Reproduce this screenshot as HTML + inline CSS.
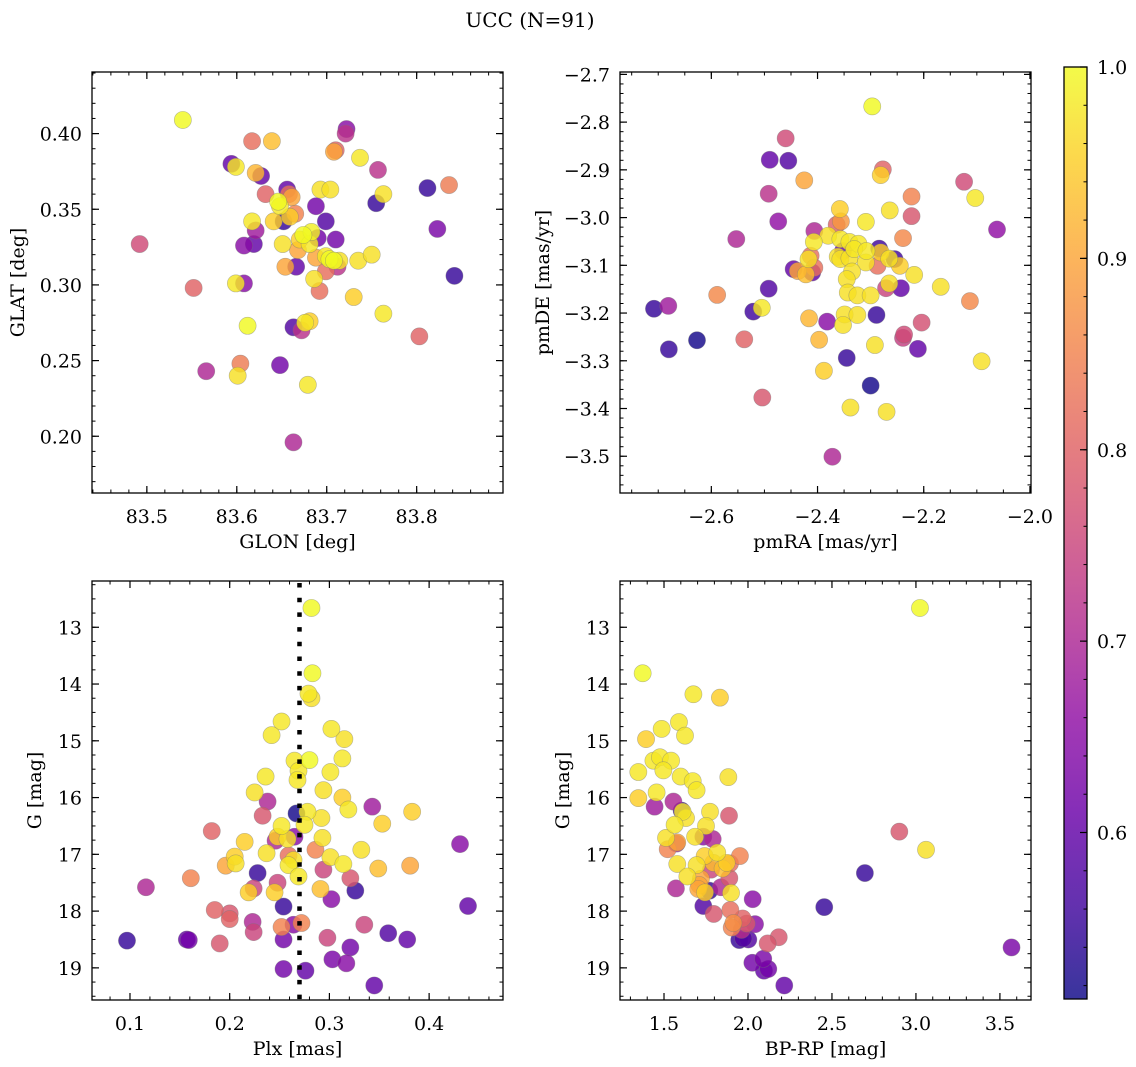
<!DOCTYPE html>
<html><head><meta charset="utf-8">
<style>
html,body{margin:0;padding:0;background:#fff;}
svg{display:block;font-family:"DejaVu Serif","Liberation Serif",serif;}
</style></head>
<body>
<svg id="fig" width="1136" height="1067" viewBox="0 0 1136 1067" xmlns="http://www.w3.org/2000/svg">
<text x="530" y="27" font-size="20" text-anchor="middle">UCC (N=91)</text>
</svg>
<script>
// ---- Panel 1: GLON / GLAT ----
const p1x=[83.540,83.594,83.599,83.617,83.639,83.621,83.627,83.632,83.656,83.658,83.661,83.617,83.621,83.608,83.619,83.646,83.648,83.641,83.652,83.659,83.665,83.651,83.654,83.668,83.674,83.681,83.670,83.683,83.688,83.693,83.704,83.699,83.703,83.699,83.688,83.690,83.708,83.714,83.722,83.721,83.710,83.708,83.737,83.699,83.710,83.712,83.735,83.755,83.763,83.757,83.812,83.836,83.823,83.730,83.763,83.750,83.842,83.803,83.492,83.552,83.599,83.608,83.612,83.663,83.676,83.681,83.672,83.692,83.686,83.666,83.648,83.604,83.601,83.566,83.679,83.663];
const p1y=[0.409,0.380,0.378,0.395,0.395,0.374,0.372,0.360,0.363,0.360,0.358,0.342,0.336,0.326,0.327,0.355,0.352,0.342,0.342,0.345,0.347,0.327,0.312,0.323,0.333,0.327,0.330,0.335,0.352,0.363,0.363,0.319,0.317,0.309,0.318,0.331,0.316,0.316,0.403,0.400,0.389,0.388,0.384,0.342,0.330,0.312,0.316,0.354,0.360,0.376,0.364,0.366,0.337,0.292,0.281,0.320,0.306,0.266,0.327,0.298,0.301,0.301,0.273,0.272,0.275,0.276,0.270,0.296,0.304,0.312,0.247,0.248,0.240,0.243,0.234,0.196];
const p1p=[1.0,0.6,0.98,0.82,0.93,0.92,0.6,0.8,0.6,0.82,0.9,0.98,0.68,0.65,0.6,1.0,0.98,0.95,0.55,0.95,0.85,0.97,0.9,0.9,1.0,0.98,0.95,0.99,0.62,0.97,0.97,0.98,1.0,0.82,0.9,0.62,1.0,0.97,0.65,0.72,0.8,0.9,0.98,0.58,0.62,0.72,0.97,0.55,0.97,0.72,0.55,0.84,0.63,0.95,0.98,0.97,0.55,0.8,0.76,0.8,0.98,0.65,1.0,0.58,0.98,0.95,0.72,0.82,0.97,0.6,0.62,0.84,0.97,0.7,0.98,0.7];
// ---- Panel 2: pmRA / pmDE ----
const p2x=[-2.297,-2.460,-2.490,-2.455,-2.277,-2.281,-2.425,-2.492,-2.124,-2.103,-2.223,-2.264,-2.358,-2.356,-2.309,-2.223,-2.062,-2.474,-2.553,-2.239,-2.406,-2.364,-2.380,-2.407,-2.357,-2.340,-2.323,-2.352,-2.331,-2.308,-2.284,-2.281,-2.255,-2.265,-2.245,-2.287,-2.218,-2.362,-2.357,-2.340,-2.309,-2.335,-2.345,-2.343,-2.325,-2.300,-2.271,-2.265,-2.243,-2.168,-2.445,-2.437,-2.422,-2.417,-2.413,-2.410,-2.406,-2.492,-2.589,-2.708,-2.681,-2.521,-2.505,-2.113,-2.204,-2.416,-2.382,-2.349,-2.325,-2.352,-2.289,-2.237,-2.239,-2.211,-2.292,-2.397,-2.538,-2.627,-2.680,-2.345,-2.091,-2.388,-2.300,-2.504,-2.338,-2.270,-2.372];
const p2y=[-2.767,-2.834,-2.879,-2.881,-2.899,-2.911,-2.922,-2.950,-2.925,-2.959,-2.956,-2.985,-2.982,-3.008,-3.009,-2.997,-3.025,-3.008,-3.045,-3.043,-3.028,-3.015,-3.038,-3.051,-3.045,-3.051,-3.055,-3.070,-3.066,-3.070,-3.065,-3.073,-3.087,-3.086,-3.101,-3.101,-3.120,-3.082,-3.087,-3.085,-3.094,-3.113,-3.129,-3.157,-3.163,-3.163,-3.148,-3.138,-3.148,-3.145,-3.108,-3.112,-3.119,-3.087,-3.080,-3.115,-3.105,-3.149,-3.162,-3.191,-3.185,-3.197,-3.189,-3.175,-3.220,-3.211,-3.218,-3.203,-3.204,-3.225,-3.204,-3.245,-3.252,-3.275,-3.267,-3.256,-3.255,-3.257,-3.276,-3.294,-3.301,-3.321,-3.352,-3.377,-3.398,-3.407,-3.501];
const p2p=[1.0,0.76,0.6,0.58,0.8,0.95,0.9,0.72,0.76,0.98,0.85,0.97,0.95,0.88,0.98,0.78,0.66,0.66,0.7,0.86,0.7,0.8,0.97,0.98,0.98,0.98,0.98,0.6,0.98,0.98,0.56,0.95,0.56,0.97,0.95,0.82,0.97,0.97,0.97,0.97,0.97,0.97,0.97,0.97,0.97,0.97,0.75,0.97,0.6,0.97,0.6,0.9,0.93,0.97,0.82,0.6,0.82,0.58,0.86,0.55,0.68,0.56,0.98,0.86,0.77,0.92,0.65,0.97,0.97,0.97,0.55,0.76,0.74,0.6,0.97,0.92,0.8,0.52,0.55,0.55,0.97,0.95,0.52,0.78,0.97,0.97,0.7];
// ---- Panel 3: Plx / G ----
const p3x=[0.282,0.283,0.279,0.282,0.252,0.242,0.302,0.315,0.265,0.280,0.313,0.301,0.269,0.268,0.236,0.225,0.294,0.313,0.238,0.267,0.278,0.319,0.343,0.383,0.233,0.292,0.275,0.353,0.252,0.182,0.265,0.246,0.248,0.258,0.293,0.215,0.286,0.332,0.431,0.237,0.205,0.206,0.196,0.259,0.264,0.259,0.301,0.314,0.349,0.381,0.161,0.228,0.269,0.294,0.321,0.116,0.224,0.248,0.219,0.245,0.291,0.326,0.302,0.439,0.254,0.185,0.200,0.200,0.223,0.224,0.264,0.272,0.252,0.335,0.097,0.157,0.159,0.190,0.254,0.298,0.359,0.378,0.321,0.254,0.276,0.303,0.317,0.345];
const p3y=[12.66,13.81,14.17,14.25,14.66,14.90,14.79,14.97,15.35,15.34,15.31,15.55,15.53,15.69,15.63,15.91,15.87,16.00,16.07,16.28,16.25,16.21,16.16,16.25,16.32,16.36,16.48,16.46,16.50,16.59,16.69,16.76,16.69,16.73,16.71,16.78,16.92,16.92,16.82,16.98,17.04,17.16,17.20,17.02,17.10,17.19,17.05,17.17,17.25,17.20,17.42,17.33,17.39,17.27,17.42,17.58,17.60,17.50,17.67,17.67,17.61,17.64,17.79,17.91,17.92,17.98,18.04,18.14,18.19,18.37,18.24,18.21,18.28,18.24,18.52,18.50,18.51,18.57,18.50,18.47,18.39,18.50,18.64,19.02,19.05,18.85,18.92,19.31];
const p3p=[1.0,1.0,0.98,0.97,0.98,0.98,0.98,0.97,0.98,1.0,0.98,0.98,0.98,0.98,0.98,0.97,0.97,0.95,0.7,0.52,0.98,0.98,0.68,0.95,0.78,0.97,0.98,0.95,0.98,0.8,0.65,0.7,0.95,0.97,0.97,0.95,0.85,0.97,0.65,0.97,0.95,0.97,0.9,0.82,0.97,0.98,0.97,0.98,0.93,0.9,0.85,0.55,0.98,0.75,0.78,0.7,0.75,0.75,0.95,0.95,0.93,0.55,0.65,0.6,0.55,0.8,0.78,0.8,0.7,0.75,0.65,0.85,0.85,0.75,0.55,0.6,0.62,0.78,0.62,0.75,0.58,0.6,0.62,0.62,0.6,0.63,0.65,0.6];
// ---- Panel 4: BP-RP / G ----
const p4x=[3.024,1.373,1.675,1.833,1.589,1.486,1.625,1.393,1.437,1.476,1.542,1.496,1.347,1.599,1.671,1.694,1.883,1.456,1.347,1.556,1.444,1.605,1.611,1.631,1.774,1.887,1.563,1.750,2.901,1.734,1.790,1.685,1.512,1.575,1.579,1.522,3.060,1.579,1.742,1.817,1.952,1.694,1.794,1.873,1.893,1.849,1.780,2.696,1.639,1.720,1.710,1.704,1.889,1.839,1.571,1.770,1.744,1.899,2.028,1.734,2.454,1.796,1.895,1.968,2.042,1.913,1.903,1.962,1.992,2.183,2.117,1.948,2.002,1.972,3.569,2.026,2.091,2.121,2.095,2.216];
const p4y=[12.66,13.81,14.18,14.24,14.67,14.79,14.91,14.97,15.35,15.29,15.35,15.52,15.55,15.63,15.71,15.87,15.64,15.91,16.01,16.07,16.16,16.23,16.25,16.36,16.25,16.32,16.48,16.50,16.60,16.69,16.73,16.69,16.71,16.81,16.79,16.91,16.92,17.17,17.03,16.97,17.03,17.19,17.15,17.15,17.16,17.25,17.27,17.33,17.39,17.43,17.54,17.61,17.42,17.58,17.60,17.64,17.67,17.68,17.79,17.91,17.93,18.05,17.98,18.13,18.23,18.21,18.29,18.33,18.22,18.46,18.57,18.51,18.50,18.48,18.64,18.91,18.84,19.02,19.05,19.31];
const p4p=[1.0,1.0,0.98,0.95,0.98,0.98,0.98,0.95,0.98,0.98,0.98,0.98,0.98,0.98,0.98,0.98,0.97,0.98,0.95,0.7,0.68,0.55,0.98,0.97,0.97,0.78,0.98,0.97,0.78,0.65,0.7,0.97,0.97,0.7,0.9,0.85,0.97,0.97,0.95,0.97,0.85,0.97,0.93,0.95,0.82,0.93,0.75,0.55,0.97,0.9,0.9,0.9,0.78,0.7,0.7,0.55,0.95,0.97,0.65,0.58,0.55,0.78,0.82,0.8,0.65,0.87,0.85,0.72,0.78,0.78,0.78,0.55,0.58,0.58,0.63,0.62,0.63,0.62,0.6,0.6];
// tick labels
const p1xTicks=[83.5,83.6,83.7,83.8];
const p1yTicks=[0.20,0.25,0.30,0.35,0.40];
const p2xTicks=[-2.6,-2.4,-2.2,-2.0];
const p2yTicks=[-2.7,-2.8,-2.9,-3.0,-3.1,-3.2,-3.3,-3.4,-3.5];
const p3xTicks=[0.1,0.2,0.3,0.4];
const gTicks=[13,14,15,16,17,18,19];
const p4xTicks=[1.5,2.0,2.5,3.0,3.5];
const cbTicks=[0.6,0.7,0.8,0.9,1.0];
const plxRef=0.27;
const pMin=0.513, pMax=1.0;

const NS="http://www.w3.org/2000/svg";
const svg=document.getElementById('fig');
const FS=19;
function mk(tag,attrs,parent){const e=document.createElementNS(NS,tag);for(const k in attrs)e.setAttribute(k,attrs[k]);(parent||svg).appendChild(e);return e;}
const plasma=[[13,8,135],[65,4,157],[106,0,168],[143,13,164],[177,42,144],[204,71,120],[225,100,98],[242,132,75],[252,166,54],[252,206,37],[240,249,33]];
function cmap(p){let t=(p-pMin)/(pMax-pMin);t=Math.max(0,Math.min(1,t));const f=t*10,i=Math.min(9,Math.floor(f)),r=f-i;const a=plasma[i],b=plasma[i+1];return 'rgb('+[0,1,2].map(k=>Math.round(a[k]+(b[k]-a[k])*r)).join(',')+')';}
function fmt(v,d){return (v<0?'\u2212':'')+Math.abs(v).toFixed(d);}

function panel(name,L,R,T,B,xr,yr,xinv,xT,yT,xd,yd,xminor,yminor,xlab,ylab,ylabX,xs,ys,ps){
  const g=mk('g',{});
  
  
  const sx=v=>L+(v-xr[0])/(xr[1]-xr[0])*(R-L);
  const sy=v=>yr[2]? T+(v-yr[0])/(yr[1]-yr[0])*(B-T) : B-(v-yr[0])/(yr[1]-yr[0])*(B-T);
  const clip=mk('clipPath',{id:'c'+name},g);mk('rect',{x:L,y:T,width:R-L,height:B-T},clip);
  const pts=mk('g',{'clip-path':'url(#c'+name+')'},g);
  
  
  const idx=xs.map((_,i)=>i).sort((a,b)=>ps[a]-ps[b]);
  idx.forEach(i=>{const c=mk('circle',{cx:sx(xs[i]),cy:sy(ys[i]),r:8.6,fill:cmap(ps[i]),'fill-opacity':0.82,stroke:'#777','stroke-opacity':0.5,'stroke-width':0.6},pts);
    
    });
  if(name==='plx-g-panel'){const l=mk('line',{x1:sx(plxRef),x2:sx(plxRef),y1:T+2,y2:B,stroke:'#000','stroke-width':4.5,'stroke-dasharray':'4.5 10.2'},g);
    
    }
  for(let v=Math.ceil(xr[0]/xminor-1e-6)*xminor;v<=xr[1]+1e-9;v+=xminor){const x=sx(v);mk('line',{x1:x,x2:x,y1:B,y2:B-3.5,stroke:'#000','stroke-width':1},g);mk('line',{x1:x,x2:x,y1:T,y2:T+3.5,stroke:'#000','stroke-width':1},g);}
  const ylo=Math.min(yr[0],yr[1]),yhi=Math.max(yr[0],yr[1]);
  for(let v=Math.ceil(ylo/yminor-1e-6)*yminor;v<=yhi+1e-9;v+=yminor){const y=sy(v);mk('line',{x1:L,x2:L+3.5,y1:y,y2:y,stroke:'#000','stroke-width':1},g);mk('line',{x1:R,x2:R-3.5,y1:y,y2:y,stroke:'#000','stroke-width':1},g);}
  xT.forEach(v=>{const x=sx(v);mk('line',{x1:x,x2:x,y1:B,y2:B-7,stroke:'#000','stroke-width':1.2},g);mk('line',{x1:x,x2:x,y1:T,y2:T+7,stroke:'#000','stroke-width':1.2},g);
    const t=mk('text',{x:x,y:B+30,'font-size':FS,'text-anchor':'middle'},g);t.textContent=fmt(v,xd);
    
    });
  yT.forEach(v=>{const y=sy(v);mk('line',{x1:L,x2:L+7,y1:y,y2:y,stroke:'#000','stroke-width':1.2},g);mk('line',{x1:R,x2:R-7,y1:y,y2:y,stroke:'#000','stroke-width':1.2},g);
    const t=mk('text',{x:L-10,y:y+7,'font-size':FS,'text-anchor':'end'},g);t.textContent=fmt(v,yd);
    
    });
  mk('rect',{x:L,y:T,width:R-L,height:B-T,fill:'none',stroke:'#000','stroke-width':1.3},g);
  const xl=mk('text',{x:(L+R)/2,y:B+55,'font-size':FS,'text-anchor':'middle'},g);xl.textContent=xlab;
  
  
  const yl=mk('text',{x:ylabX,y:(T+B)/2,'font-size':FS,'text-anchor':'middle',transform:'rotate(-90 '+ylabX+' '+(T+B)/2+')'},g);yl.textContent=ylab;
  
  
}
panel('glon-glat-panel',92,503,72,493,[83.439,83.896],[0.1625,0.4407],0,p1xTicks,p1yTicks,1,2,0.02,0.01,'GLON [deg]','GLAT [deg]',24,p1x,p1y,p1p);
panel('pm-panel',620,1031,72,493,[-2.772,-1.998],[-3.577,-2.695],0,p2xTicks,p2yTicks,1,1,0.05,0.02,'pmRA [mas/yr]','pmDE [mas/yr]',549,p2x,p2y,p2p);
panel('plx-g-panel',92,503,581,1000,[0.0619,0.4741],[12.185,19.566,1],0,p3xTicks,gTicks,1,0,0.02,0.25,'Plx [mas]','G [mag]',41,p3x,p3y,p3p);
panel('cmd-panel',620,1031,581,1000,[1.238,3.685],[12.185,19.566,1],0,p4xTicks,gTicks,1,0,0.1,0.25,'BP-RP [mag]','G [mag]',569,p4x,p4y,p4p);

const cb=mk('g',{});


const cT=67,cB=999,cL=1064,cR=1087;
const cy=v=>cB-(v-pMin)/(pMax-pMin)*(cB-cT);
const defs=mk('defs',{},cb);const gr=mk('linearGradient',{id:'cbg',x1:0,y1:1,x2:0,y2:0},defs);
for(let i=0;i<=20;i++){const p=pMin+(pMax-pMin)*i/20;mk('stop',{offset:(i/20),'stop-color':cmap(p)},gr);}
mk('rect',{x:cL,y:cT,width:cR-cL,height:cB-cT,fill:'url(#cbg)','fill-opacity':0.82},cb);
for(let v=0.52;v<=1.0001;v+=0.02){const y=cy(v);mk('line',{x1:cR,x2:cR-3.5,y1:y,y2:y,stroke:'#000','stroke-width':1},cb);}
cbTicks.forEach(v=>{const y=cy(v);mk('line',{x1:cR,x2:cR-7,y1:y,y2:y,stroke:'#000','stroke-width':1.2},cb);
  const t=mk('text',{x:cR+10,y:y+7,'font-size':FS},cb);t.textContent=v.toFixed(1);
  
  });
mk('rect',{x:cL,y:cT,width:cR-cL,height:cB-cT,fill:'none',stroke:'#000','stroke-width':1.3},cb);
</script>
</body></html>
